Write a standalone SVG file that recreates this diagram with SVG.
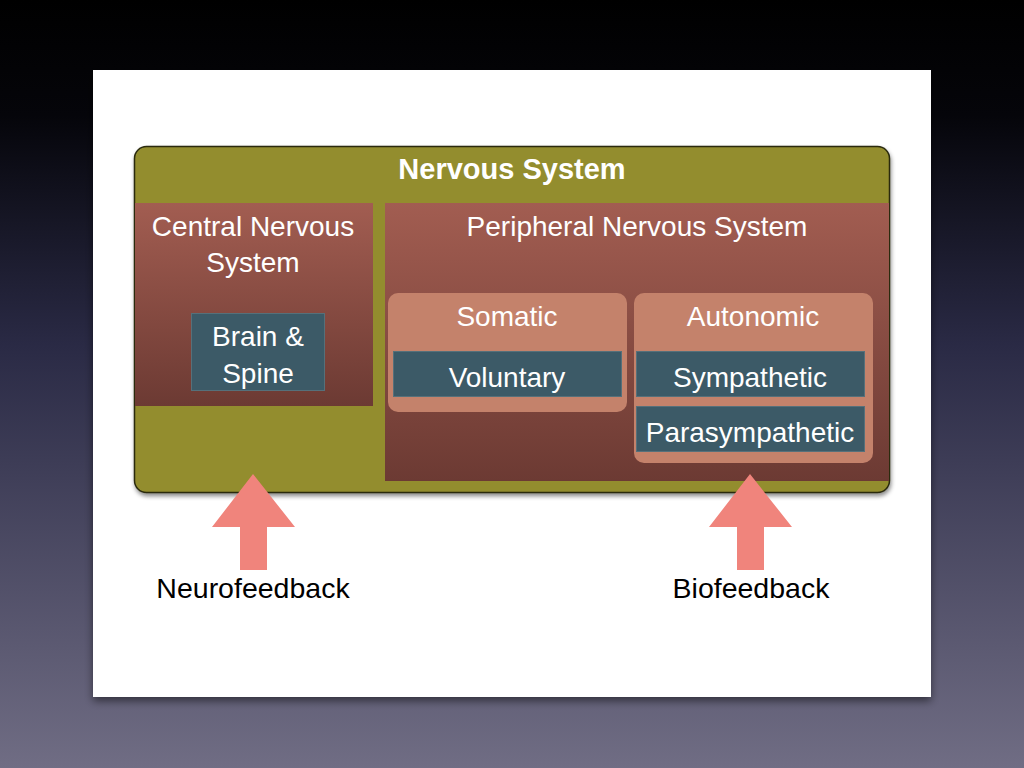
<svg xmlns="http://www.w3.org/2000/svg" width="1024" height="768" viewBox="0 0 1024 768">
<defs>
<linearGradient id="bg" x1="0" y1="0" x2="0" y2="1">
<stop offset="0" stop-color="#000000"/>
<stop offset="0.15" stop-color="#05050a"/>
<stop offset="0.45" stop-color="#2a2a45"/>
<stop offset="1" stop-color="#706d84"/>
</linearGradient>
<linearGradient id="red" x1="0" y1="0" x2="0" y2="1">
<stop offset="0" stop-color="#a25d51"/>
<stop offset="1" stop-color="#6c3a33"/>
</linearGradient>
<filter id="sh" x="-10%" y="-10%" width="120%" height="130%">
<feDropShadow dx="0" dy="4" stdDeviation="4" flood-color="#000" flood-opacity="0.5"/>
</filter>
<filter id="sh2" x="-5%" y="-5%" width="110%" height="115%">
<feDropShadow dx="1" dy="3" stdDeviation="2" flood-color="#000" flood-opacity="0.45"/>
</filter>
<style>
.t{font-family:"Liberation Sans",Arial,sans-serif;font-size:28px;fill:#ffffff;text-anchor:middle}
.b{font-weight:bold;font-size:29px}
.k{font-family:"Liberation Sans",Arial,sans-serif;font-size:28.5px;fill:#000;text-anchor:middle}
.blue{fill:#3c5a67;stroke:#56707a;stroke-width:1}
.tan{fill:#c4826b}
.arrow{fill:#f0847c}
</style>
</defs>
<rect width="1024" height="768" fill="url(#bg)"/>
<rect x="93" y="70" width="838" height="627" fill="#ffffff" filter="url(#sh)"/>
<g id="nervous-system">
<rect x="134.5" y="146.5" width="755" height="346" rx="12" fill="#938d2e" stroke="#2a2a10" stroke-width="1.5" filter="url(#sh2)"/>
<text class="t b" x="512" y="179">Nervous System</text>
</g>
<g id="cns">
<rect x="135" y="203" width="238" height="203" fill="url(#red)"/>
<text class="t" x="253" y="236">Central Nervous</text>
<text class="t" x="253" y="272">System</text>
</g>
<g id="brain-spine">
<rect class="blue" x="191.5" y="313.5" width="133" height="77"/>
<text class="t" x="258" y="346">Brain &amp;</text>
<text class="t" x="258" y="383">Spine</text>
</g>
<g id="pns">
<rect x="385" y="203" width="504" height="278" fill="url(#red)"/>
<text class="t" x="637" y="236">Peripheral Nervous System</text>
</g>
<g id="somatic">
<rect class="tan" x="388" y="293" width="239" height="119" rx="10"/>
<text class="t" x="507" y="326">Somatic</text>
</g>
<g id="voluntary">
<rect class="blue" x="393.5" y="351.5" width="228" height="45"/>
<text class="t" x="507" y="387">Voluntary</text>
</g>
<g id="autonomic">
<rect class="tan" x="634" y="293" width="239" height="170" rx="10"/>
<text class="t" x="753" y="326">Autonomic</text>
</g>
<g id="sympathetic">
<rect class="blue" x="636.5" y="351.5" width="228" height="45"/>
<text class="t" x="750" y="387">Sympathetic</text>
</g>
<g id="parasympathetic">
<rect class="blue" x="636.5" y="406.5" width="228" height="45"/>
<text class="t" x="750" y="442">Parasympathetic</text>
</g>
<g id="connectors">
<polygon class="arrow" points="253,474 295,527 267,527 267,570 240,570 240,527 212,527"/>
<polygon class="arrow" points="750,474 792,527 764,527 764,570 737,570 737,527 709,527"/>
</g>
<g id="neurofeedback">
<text class="k" x="253" y="598">Neurofeedback</text>
</g>
<g id="biofeedback">
<text class="k" x="751" y="598">Biofeedback</text>
</g>
</svg>
